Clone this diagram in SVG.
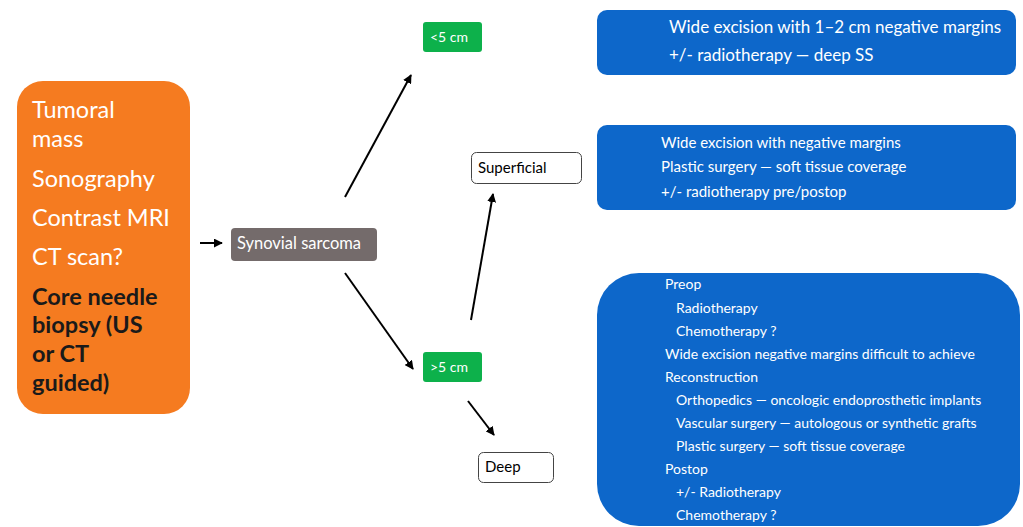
<svg xmlns="http://www.w3.org/2000/svg" width="1023" height="527" viewBox="0 0 1023 527">
<defs>
<marker id="ah" viewBox="0 0 10 10" refX="9" refY="5" markerWidth="4.5" markerHeight="4.5" orient="auto" markerUnits="strokeWidth">
<path d="M0,0 L10,5 L0,10 z" fill="#000"/>
</marker>
<style>
text{font-family:Lato,"Open Sans","Liberation Sans",sans-serif}
.w{fill:#fff}
.blue{fill:#0D67CA}
.green{fill:#0DB14B}
.big{font-size:23.5px}
.c{stroke:#000;stroke-width:2;fill:none;marker-end:url(#ah)}
</style>
</defs>
<rect width="1023" height="527" fill="#fff"/>
<g id="n-orange">
<rect x="17" y="81" width="173" height="333" rx="26" fill="#F57B20"/>
<text class="w big" x="32" y="118">Tumoral</text>
<text class="w big" x="32" y="147">mass</text>
<text class="w big" x="32" y="187">Sonography</text>
<text class="w big" x="32" y="226">Contrast MRI</text>
<text class="w big" x="32" y="265">CT scan?</text>
<g font-weight="bold" fill="#1a1a1a" class="big">
<text x="32" y="305">Core needle</text>
<text x="32" y="333">biopsy (US</text>
<text x="32" y="362">or CT</text>
<text x="32" y="391">guided)</text>
</g>
</g>
<g id="n-synovial">
<rect x="231" y="228" width="146" height="33" rx="4" fill="#746B6B"/>
<text class="w" x="237" y="249" font-size="16.5">Synovial sarcoma</text>
</g>
<g id="n-lt5">
<rect x="423" y="22" width="59" height="30" rx="3" class="green"/>
<text class="w" x="430" y="42" font-size="14">&lt;5 cm</text>
</g>
<g id="n-gt5">
<rect x="423" y="352" width="59" height="30" rx="3" class="green"/>
<text class="w" x="430" y="372" font-size="14">&gt;5 cm</text>
</g>
<g id="n-superficial">
<rect x="471.5" y="152.5" width="110" height="31" rx="5" fill="#fff" stroke="#444"/>
<text x="478" y="173" font-size="15" fill="#000">Superficial</text>
</g>
<g id="n-deep">
<rect x="478.5" y="452.5" width="75" height="30" rx="5" fill="#fff" stroke="#444"/>
<text x="485" y="472" font-size="15" fill="#000">Deep</text>
</g>
<g id="n-blue1">
<rect x="597" y="10" width="419" height="65" rx="10" class="blue"/>
<text class="w" x="669" y="33" font-size="17">Wide excision with 1–2 cm negative margins</text>
<text class="w" x="669" y="61" font-size="17">+/- radiotherapy — deep SS</text>
</g>
<g id="n-blue2">
<rect x="597" y="125" width="419" height="85" rx="10" class="blue"/>
<g class="w" font-size="15">
<text x="661" y="148">Wide excision with negative margins</text>
<text x="661" y="172">Plastic surgery — soft tissue coverage</text>
<text x="661" y="197">+/- radiotherapy pre/postop</text>
</g>
</g>
<g id="n-blue3">
<rect x="597" y="273" width="423" height="253" rx="42" class="blue"/>
<g class="w" font-size="14">
<text x="665" y="289">Preop</text>
<text x="676" y="313">Radiotherapy</text>
<text x="676" y="336">Chemotherapy ?</text>
<text x="665" y="359">Wide excision negative margins difficult to achieve</text>
<text x="665" y="382">Reconstruction</text>
<text x="676" y="405">Orthopedics — oncologic endoprosthetic implants</text>
<text x="676" y="428">Vascular surgery — autologous or synthetic grafts</text>
<text x="676" y="451">Plastic surgery — soft tissue coverage</text>
<text x="665" y="474">Postop</text>
<text x="676" y="497">+/- Radiotherapy</text>
<text x="676" y="520">Chemotherapy ?</text>
</g>
</g>
<g id="connectors">
<line class="c" x1="200" y1="243" x2="222" y2="243"/>
<line class="c" x1="345" y1="197" x2="411" y2="75"/>
<line class="c" x1="345" y1="273" x2="413" y2="369"/>
<line class="c" x1="471" y1="320" x2="493" y2="194"/>
<line class="c" x1="468" y1="401" x2="494" y2="435"/>
</g>
</svg>
